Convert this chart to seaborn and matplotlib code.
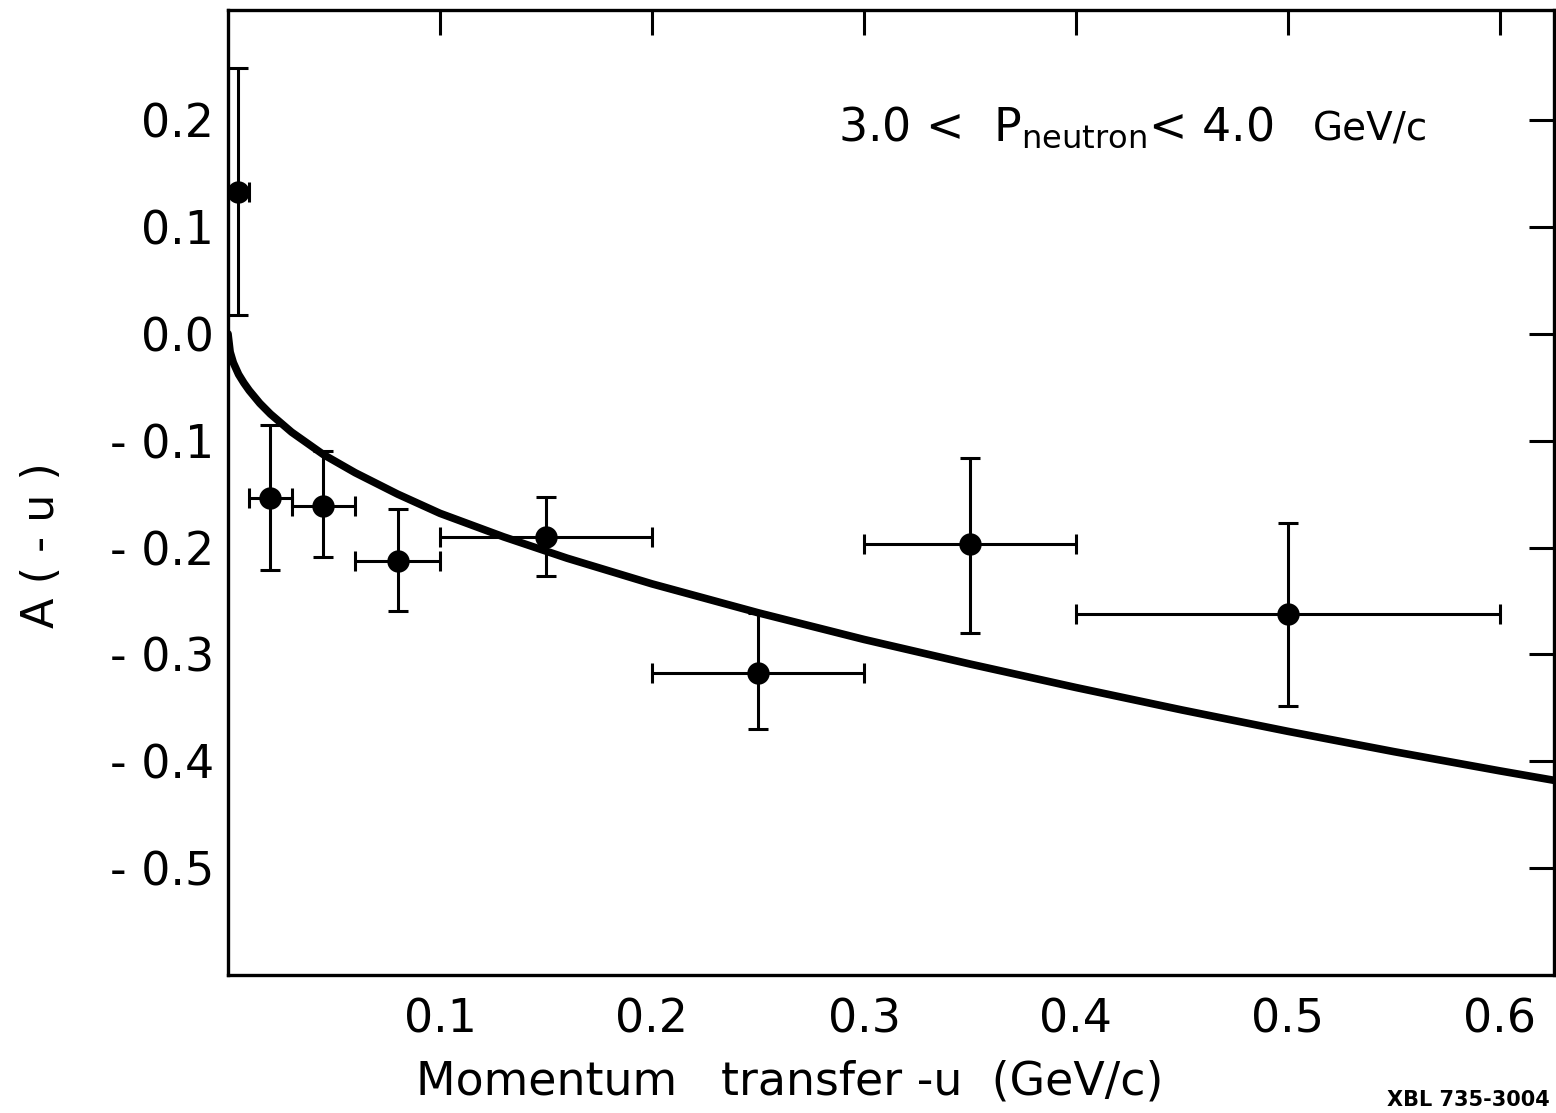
import numpy as np
import pandas as pd
import matplotlib
matplotlib.use("Agg")
import matplotlib.pyplot as plt
import seaborn as sns

# ---- data ----
u_vals = [0.0045, 0.02, 0.045, 0.08, 0.15, 0.25, 0.35, 0.50]
a_vals = [0.133, -0.154, -0.161, -0.213, -0.190, -0.317, -0.197, -0.262]
a_err_lo = [0.115, 0.067, 0.048, 0.046, 0.037, 0.053, 0.083, 0.086]
a_err_hi = [0.116, 0.069, 0.051, 0.049, 0.037, 0.056, 0.081, 0.085]
u_err_lo = [0.0045, 0.01, 0.015, 0.02, 0.05, 0.05, 0.05, 0.10]
u_err_hi = [0.0055, 0.01, 0.015, 0.02, 0.05, 0.05, 0.05, 0.10]

curve_u = [0, 0.001, 0.0025, 0.005, 0.0075, 0.01, 0.015, 0.02, 0.03, 0.045,
           0.06, 0.08, 0.1, 0.13, 0.16, 0.2, 0.25, 0.3, 0.35, 0.4, 0.45,
           0.5, 0.55, 0.6, 0.626]
curve_a = [0, -0.017, -0.027, -0.038, -0.046, -0.053, -0.065, -0.075, -0.092,
           -0.113, -0.130, -0.150, -0.168, -0.190, -0.210, -0.234, -0.261,
           -0.286, -0.309, -0.331, -0.352, -0.372, -0.391, -0.409, -0.418]

x_ticks = [0.1, 0.2, 0.3, 0.4, 0.5, 0.6]
x_tick_labels = ["0.1", "0.2", "0.3", "0.4", "0.5", "0.6"]
y_ticks = [0.2, 0.1, 0.0, -0.1, -0.2, -0.3, -0.4, -0.5]
y_tick_labels = ["0.2", "0.1", "0.0", "- 0.1", "- 0.2", "- 0.3", "- 0.4", "- 0.5"]

sns.set_theme(style="white")
plt.rcParams['font.family'] = ['DejaVu Sans']
plt.rcParams['mathtext.default'] = 'regular'

W, H = 1556, 1113
fig = plt.figure(figsize=(W / 100, H / 100), dpi=100)
ax = fig.add_axes([228 / W, 1 - 975 / H, (1554 - 228) / W, (975 - 10) / H])

pts = pd.DataFrame({"u": u_vals, "A": a_vals})
crv = pd.DataFrame({"u": curve_u, "A": curve_a})

sns.lineplot(data=crv, x="u", y="A", ax=ax, color="black", linewidth=5.5,
             sort=True, estimator=None, zorder=2)
ax.errorbar(u_vals, a_vals, yerr=[a_err_lo, a_err_hi], xerr=[u_err_lo, u_err_hi],
            fmt="none", ecolor="black", elinewidth=2.2, capsize=7, capthick=2.2,
            zorder=3)
sns.scatterplot(data=pts, x="u", y="A", ax=ax, color="black", s=260,
                edgecolor="black", linewidth=0, zorder=4)

ax.set_xlim(0, 0.6255)
ax.set_ylim(-0.6, 0.303)
ax.set_xticks(x_ticks)
ax.set_xticklabels(x_tick_labels)
ax.set_yticks(y_ticks)
ax.set_yticklabels(y_tick_labels)
ax.tick_params(axis="both", direction="in", length=18, width=2.2,
               labelsize=33, color="black", labelcolor="black",
               top=True, right=True)
ax.tick_params(axis="x", pad=16)
ax.tick_params(axis="y", pad=10)
for s in ax.spines.values():
    s.set_linewidth(2.4)
    s.set_color("black")

ax.set_xlabel("")
ax.set_ylabel("")
fig.text(790 / W, 1 - 1082 / H, "Momentum   transfer -u  (GeV/c)",
         ha="center", va="center", fontsize=33, color="black")
fig.text(42 / W, 1 - 545 / H, "A ( - u )", ha="center", va="center",
         rotation=90, fontsize=32, color="black")

fig.text(838 / W, 1 - 141 / H, r"3.0 <  P$_{neutron}$< 4.0",
         ha="left", va="baseline", fontsize=33, color="black")
fig.text(1313 / W, 1 - 141 / H, "GeV/c", ha="left", va="baseline",
         fontsize=28, color="black")
fig.text(1550 / W, 1 - 1110 / H, "XBL 735-3004", ha="right", va="bottom",
         fontsize=15, fontweight="bold", color="black")

fig.savefig("out.png", dpi=100, facecolor="white")
